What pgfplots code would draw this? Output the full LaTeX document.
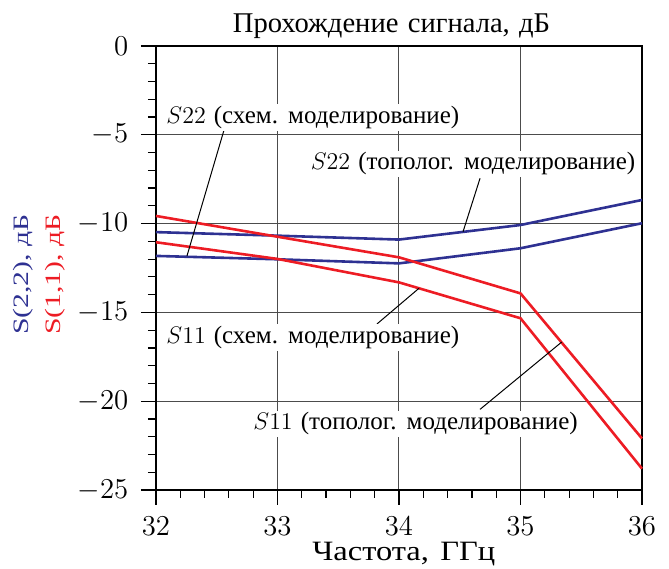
\documentclass[border=0pt]{standalone}
\usepackage{fontspec}
\setmainfont[WordSpace=1.3]{Liberation Serif}
\newfontfamily\xlfont[FakeStretch=1.16,WordSpace=1.4]{Liberation Serif}
\newfontfamily\ylfont[FakeStretch=1.35]{Liberation Serif}
\usepackage{pgfplots}
\pgfplotsset{compat=1.18}
\definecolor{sblue}{RGB}{46,49,146}
\definecolor{sred}{RGB}{237,28,36}
\begin{document}
\fontsize{14}{15}\selectfont
\begin{tikzpicture}
\begin{axis}[
 width=243pt, height=222pt, scale only axis,
 xmin=32, xmax=36, ymin=-25, ymax=0,
 xtick={32,33,34,35,36}, ytick={-25,-20,-15,-10,-5,0},
 minor x tick num=4, minor y tick num=4,
 tick align=outside, xtick pos=bottom, ytick pos=left,
 major tick length=7.5pt, minor tick length=4pt,
 grid=major, major grid style={black!70, line width=0.5pt},
 axis line style={line width=0.7pt},
 every tick/.style={black, line width=0.6pt},
 title={\fontsize{14.3}{15}\selectfont Прохождение сигнала, дБ},
 every axis title/.style={at={(axis description cs:0.4846,1)}, anchor=base, yshift=6.5pt},
 xlabel={\xlfont\fontsize{14}{15}\selectfont Частота, ГГц},
 every axis x label/.style={at={(axis description cs:0.51,0)}, anchor=base, yshift=-35.5pt},
 ylabel={\textcolor{sblue}{S(2,2), дБ}\\\textcolor{sred}{S(1,1), дБ}},
 every axis y label/.style={font=\ylfont\fontsize{11}{16}\selectfont, align=center, rotate=90, at={(axis description cs:-0.241,0.485)}, anchor=center},
 tick label style={font=\fontsize{14}{15}\selectfont},
 yticklabel style={xshift=-1.5pt},
 xticklabel style={yshift=-1pt},
 clip=false,
]
\coordinate (sw) at (rel axis cs:0,0);
\coordinate (ne) at (rel axis cs:1,1);
% S22 topolog.
\addplot[sblue, line width=1.3pt] coordinates {(32,-10.48) (33,-10.68) (34,-10.9) (35,-10.08) (36,-8.67)};
% S22 schem.
\addplot[sblue, line width=1.3pt] coordinates {(32,-11.82) (33,-12.01) (34,-12.24) (35,-11.39) (36,-9.98)};
% S11 topolog.
\addplot[sred, line width=1.3pt] coordinates {(32,-9.57) (33,-10.74) (34,-11.9) (35,-13.93) (36,-22.1)};
% S11 schem.
\addplot[sred, line width=1.3pt] coordinates {(32,-11.05) (33,-11.99) (34,-13.31) (35,-15.33) (36,-23.8)};
% leader lines
\draw[black, line width=0.5pt] (axis cs:32.56,-4.73) -- (axis cs:32.255,-11.82);
\draw[black, line width=0.5pt] (axis cs:34.667,-7.45) -- (axis cs:34.527,-10.46);
\draw[black, line width=0.5pt] (axis cs:33.819,-15.65) -- (axis cs:34.165,-13.64);
\draw[black, line width=0.5pt] (axis cs:34.667,-20.46) -- (axis cs:35.339,-16.67);
% labels
\node[anchor=base west, fill=white, inner sep=1pt, font=\fontsize{12.5}{14}\selectfont] at (axis cs:32.066,-4.35) {$S22$ (схем. моделирование)};
\node[anchor=base west, fill=white, inner sep=1pt, font=\fontsize{12.5}{14}\selectfont] at (axis cs:33.255,-6.98) {$S22$ (тополог. моделирование)};
\node[anchor=base west, fill=white, inner sep=1pt, font=\fontsize{12.5}{14}\selectfont] at (axis cs:32.066,-16.74) {$S11$ (схем. моделирование)};
\node[anchor=base west, fill=white, inner sep=1pt, font=\fontsize{12.5}{14}\selectfont] at (axis cs:32.782,-21.62) {$S11$ (тополог. моделирование)};
\end{axis}
\pgfresetboundingbox
\path[use as bounding box] ([xshift=-78pt,yshift=-39.5pt]sw) rectangle ([xshift=13.5pt,yshift=23pt]ne);
\end{tikzpicture}
\end{document}
